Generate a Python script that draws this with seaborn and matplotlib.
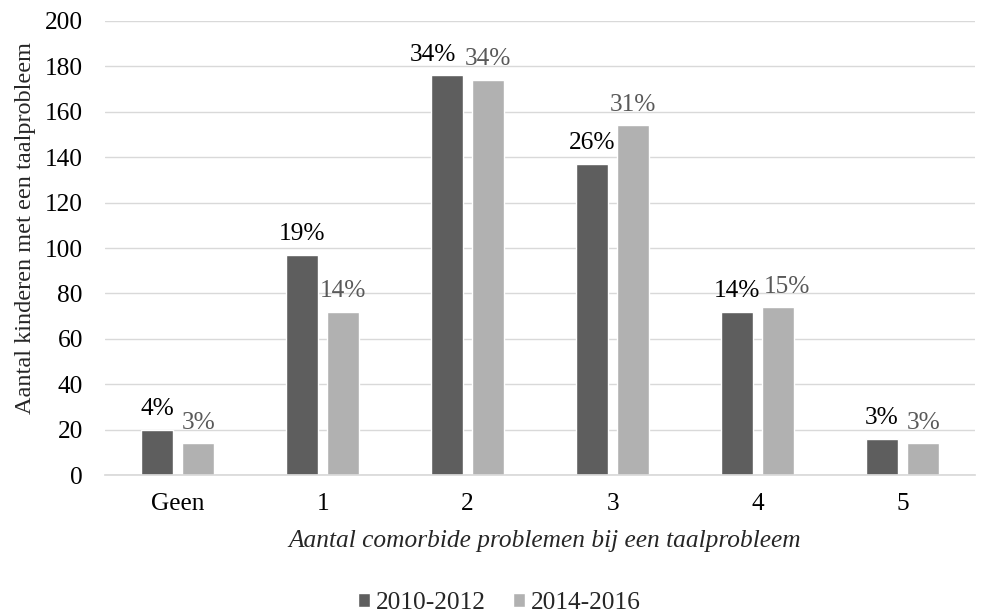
import matplotlib
matplotlib.use("Agg")
import matplotlib.pyplot as plt
import seaborn as sns
import pandas as pd

categories = ["Geen", "1", "2", "3", "4", "5"]
periods = ["2010-2012", "2014-2016"]
counts_2010 = [20, 97, 176, 137, 72, 16]
counts_2014 = [14, 72, 174, 154, 74, 14]
pct_2010 = ["4%", "19%", "34%", "26%", "14%", "3%"]
pct_2014 = ["3%", "14%", "34%", "31%", "15%", "3%"]

df = pd.DataFrame({
    "cat": categories * 2,
    "period": [periods[0]] * 6 + [periods[1]] * 6,
    "count": counts_2010 + counts_2014,
})

sns.set_theme(style="white")
plt.rcParams["font.family"] = ["Liberation Serif", "DejaVu Serif"]
FS = 18.3

fig = plt.figure(figsize=(9.83, 6.14), dpi=100)
ax = fig.add_axes([0.107, 0.226, 0.885, 0.74])

dark, light = "#5e5e5e", "#b1b1b1"
sns.barplot(data=df, x="cat", y="count", hue="period", order=categories,
            hue_order=periods, palette=[dark, light], width=0.566,
            gap=0.22, saturation=1, ax=ax, legend=True)

ax.set_ylim(0, 200)
ax.set_yticks(range(0, 201, 20))
ax.yaxis.grid(True, color="#d9d9d9", linewidth=1)
ax.set_axisbelow(True)
for s in ["top", "right", "left"]:
    ax.spines[s].set_visible(False)
ax.spines["bottom"].set_color("#d9d9d9")
ax.tick_params(axis="both", length=0, labelsize=FS, colors="black")
ax.tick_params(axis="x", pad=13)
ax.tick_params(axis="y", pad=16)
ax.set_ylabel("Aantal kinderen met een taalprobleem", fontsize=17.5)
ax.yaxis.set_label_coords(-0.08, 0.545)
ax.set_xlabel("Aantal comorbide problemen bij een taalprobleem", fontsize=FS,
              style="italic")
ax.xaxis.set_label_coords(0.505, -0.12)

# Value labels: baseline a fixed distance above each bar; a few are nudged
# sideways where neighbouring labels would collide.
label_colors = ["black", "#595959"]
nudge_px = [[0, 0, -14, 0, 0, 0], [0, 0, 0, 0, 9, 0]]
for cont, labels, col, nudges in zip(ax.containers, [pct_2010, pct_2014],
                                     label_colors, nudge_px):
    for bar, lab, dx in zip(cont, labels, nudges):
        ax.annotate(lab, xy=(bar.get_x() + bar.get_width() / 2, bar.get_height()),
                    xytext=(dx * 0.72, 10.5), textcoords="offset points",
                    ha="center", va="baseline", fontsize=FS, color=col)

leg = ax.legend(loc="center", bbox_to_anchor=(0.453, -0.282), ncol=2,
                frameon=False, fontsize=FS, handlelength=0.47, handleheight=0.47,
                handletextpad=0.25, columnspacing=1.06)

fig.savefig("out.png", dpi=100)
